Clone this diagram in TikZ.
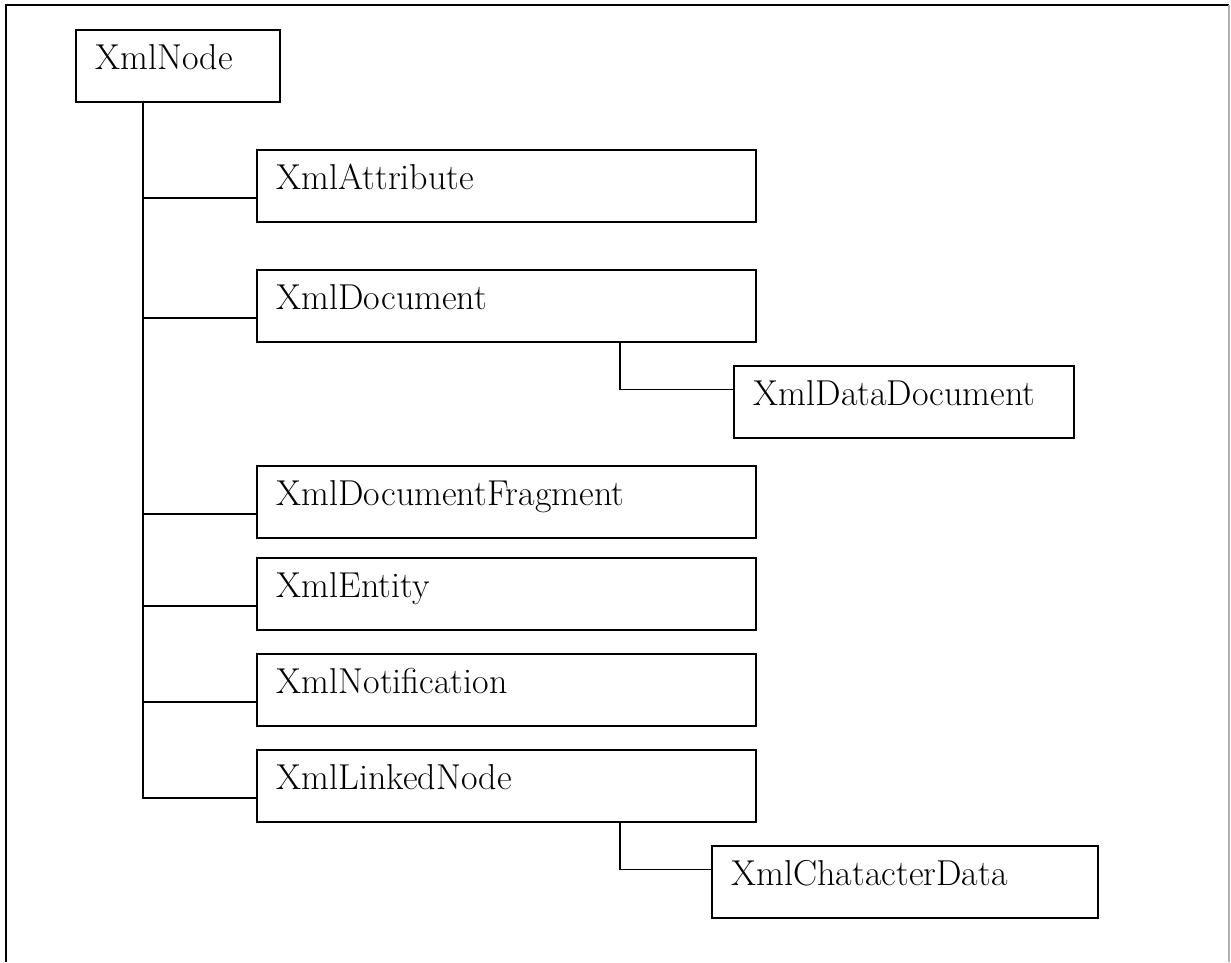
\documentclass[tikz,border=0pt]{standalone}
\usetikzlibrary{calc}
\begin{document}
\begin{tikzpicture}[x=1pt,y=-1pt,
  cls/.style={draw=black,line width=1.6pt,rectangle,anchor=north west,
    minimum height=72pt,inner xsep=20pt,inner ysep=0pt,align=left,
    text height=40pt,text depth=32pt,
    font=\fontsize{36}{42}\selectfont},
  link/.style={draw=black,line width=1.6pt}]
\useasboundingbox (0,0) rectangle (1231,962);
% outer frame (open at the bottom)
\draw[black,line width=2pt] (6,962) -- (6,5) -- (1229,5);
\draw[gray!60,line width=1.2pt] (1229,5) -- (1229,962);

% classes
\node[cls,minimum width=204pt,text width=164pt] (root) at (75,29) {XmlNode};
\node[cls,minimum width=499pt,text width=459pt] (attr) at (256,149) {XmlAttribute};
\node[cls,minimum width=499pt,text width=459pt] (doc) at (256,269) {XmlDocument};
\node[cls,minimum width=340pt,text width=300pt] (ddoc) at (733,365) {XmlDataDocument};
\node[cls,minimum width=499pt,text width=459pt] (frag) at (256,465) {XmlDocumentFragment};
\node[cls,minimum width=499pt,text width=459pt] (ent) at (256,557) {XmlEntity};
\node[cls,minimum width=499pt,text width=459pt] (note) at (256,653) {XmlNotification};
\node[cls,minimum width=499pt,text width=459pt] (lnk) at (256,749) {XmlLinkedNode};
\node[cls,minimum width=386pt,text width=346pt] (cdata) at (711,845) {XmlChatacterData};

% trunk from XmlNode and its branches
\coordinate (trunk) at ($(root.south west)+(68,0)$);
\foreach \c in {attr,doc,frag,ent,note,lnk}{
  \coordinate (\c-in) at ($(\c.north west)!0.667!(\c.south west)$);
}
\draw[link] (trunk) |- (lnk-in);
\foreach \c in {attr,doc,frag,ent,note}{
  \draw[link] (trunk |- \c-in) -- (\c-in);
}

% second-level links
\coordinate (doc-out) at ($(doc.south west)+(364,0)$);
\coordinate (ddoc-in) at ($(ddoc.north west)!0.333!(ddoc.south west)$);
\draw[link] (doc-out) |- (ddoc-in);
\coordinate (lnk-out) at ($(lnk.south west)+(364,0)$);
\coordinate (cdata-in) at ($(cdata.north west)!0.333!(cdata.south west)$);
\draw[link] (lnk-out) |- (cdata-in);
\end{tikzpicture}
\end{document}
